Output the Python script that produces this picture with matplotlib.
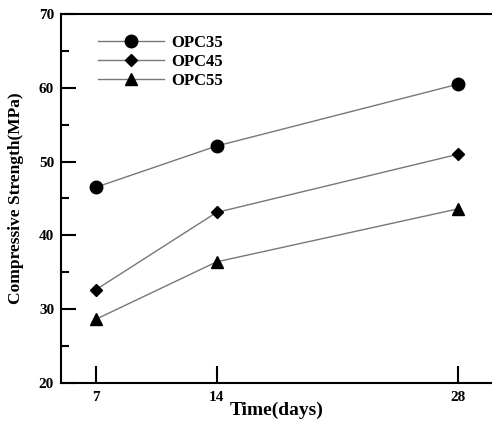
import numpy as np
import matplotlib.pyplot as plt
from matplotlib.ticker import MultipleLocator

plt.rcParams['font.family'] = ['Liberation Serif', 'DejaVu Serif']
plt.rcParams['font.weight'] = 'bold'

# 재령(일)과 압축강도(MPa)
days = [7, 14, 28]
opc35 = [46.5, 52.1, 60.5]
opc45 = [32.6, 43.1, 51.0]
opc55 = [28.6, 36.4, 43.6]
labels = ['OPC35', 'OPC45', 'OPC55']

fig = plt.figure(figsize=(4.92, 4.24), dpi=100)
ax = fig.add_axes([0.124, 0.097, 0.878, 0.870])

line_c = '#777777'
ax.plot(days, opc35, '-o', color=line_c, lw=1, mfc='k', mec='k', ms=9, label=labels[0])
ax.plot(days, opc45, '-D', color=line_c, lw=1, mfc='k', mec='k', ms=6, label=labels[1])
ax.plot(days, opc55, '-^', color=line_c, lw=1, mfc='k', mec='k', ms=8, label=labels[2])

ax.set_xlim(5, 30)
ax.set_ylim(20, 70)
ax.set_xticks(days)
ax.yaxis.set_major_locator(MultipleLocator(10))
ax.yaxis.set_minor_locator(MultipleLocator(5))
ax.tick_params(axis='y', which='major', direction='in', length=11, width=1.5, labelsize=11, pad=5)
ax.tick_params(axis='y', which='minor', direction='in', length=6, width=1.5)
ax.tick_params(axis='x', which='major', direction='in', length=12, width=1.5, labelsize=11, pad=6)
ax.spines['right'].set_visible(False)
for s in ['left', 'bottom', 'top']:
    ax.spines[s].set_linewidth(1.5)

ax.set_xlabel('Time(days)', fontsize=14, fontweight='bold', labelpad=-2)
ax.set_ylabel('Compressive Strength(MPa)', fontsize=12.5, fontweight='bold', labelpad=11)

ax.legend(loc='upper left', bbox_to_anchor=(0.05, 0.985), frameon=False,
          fontsize=12, handlelength=4.0, labelspacing=0.2, handletextpad=0.4)

plt.savefig('out.png', dpi=100)
